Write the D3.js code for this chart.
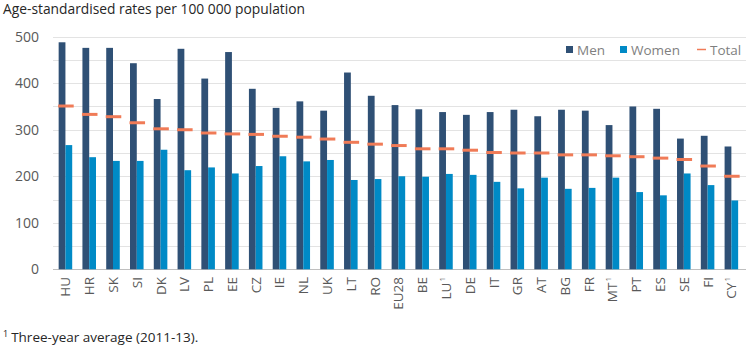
<!DOCTYPE html>
<html>
<head>
<meta charset="utf-8">
<script src="https://cdn.jsdelivr.net/npm/d3@7"></script>
<style>
  body { margin: 0; background: #fff; }
  text { font-family: 'Open Sans', sans-serif; }
</style>
</head>
<body>
<div id="chart"></div>
<script>
const countries = ['HU', 'HR', 'SK', 'SI', 'DK', 'LV', 'PL', 'EE', 'CZ', 'IE', 'NL', 'UK', 'LT', 'RO',
	'EU28', 'BE', 'LU', 'DE', 'IT', 'GR', 'AT', 'BG', 'FR', 'MT', 'PT', 'ES', 'SE', 'FI', 'CY'];
const footnoted = ['LU', 'MT', 'CY'];

const men = [488, 476, 476, 443, 366, 474, 410, 467, 388, 347, 361, 341, 423, 373,
	353, 344, 338, 332, 338, 343, 329, 343, 341, 310, 350, 345, 281, 287, 264];
const women = [267, 241, 233, 233, 257, 213, 219, 206, 222, 243, 232, 235, 192, 194,
	200, 199, 205, 203, 188, 174, 197, 173, 175, 197, 166, 159, 206, 181, 148];
const total = [351, 333, 328, 315, 302, 300, 293, 291, 290, 286, 284, 280, 273, 269,
	266, 259, 259, 256, 251, 250, 250, 246, 246, 244, 242, 239, 236, 222, 200];

const yTicks = [0, 100, 200, 300, 400, 500];
const gridLines = [0, 50, 100, 150, 200, 250, 300, 350, 400, 450, 500];

const width = 750;
const height = 349;
const colors = { men: '#2f5075', women: '#008ac6', total: '#f07b57' };

const x = d3.scaleBand()
	.domain(countries)
	.range([53.3, 743.5])
	.paddingInner(0.43)
	.paddingOuter(0.225);

const x1 = d3.scaleBand()
	.domain(['men', 'women'])
	.range([0, x.bandwidth()]);

const y = d3.scaleLinear()
	.domain([0, 500])
	.range([269.3, 36.7]);

const svg = d3.select('#chart')
	.append('svg')
	.attr('width', width)
	.attr('height', height);

svg.append('text')
	.attr('x', 3)
	.attr('y', 14)
	.style('font-size', '13.8px')
	.style('fill', '#262626')
	.text('Age-standardised rates per 100 000 population');

svg.append('g')
	.selectAll('line')
	.data(gridLines)
	.enter()
	.append('line')
	.attr('x1', 53)
	.attr('x2', 746)
	.attr('y1', d => Math.round(y(d)) + 0.5)
	.attr('y2', d => Math.round(y(d)) + 0.5)
	.attr('stroke', d => d === 0 ? '#bfbfbf' : '#e3e3e3')
	.attr('stroke-width', 1);

const yAxis = d3.axisLeft(y)
	.tickValues(yTicks)
	.tickSize(0)
	.tickPadding(0);

svg.append('g')
	.attr('transform', 'translate(39, 0)')
	.call(yAxis)
	.call(g => g.select('.domain').remove())
	.selectAll('text')
	.style('font-size', '14px')
	.style('font-family', "'Open Sans', sans-serif")
	.style('fill', '#595959');

const groups = svg.append('g')
	.selectAll('g')
	.data(countries)
	.enter()
	.append('g')
	.attr('transform', d => `translate(${x(d)}, 0)`);

groups.append('rect')
	.attr('x', x1('men'))
	.attr('width', x1.bandwidth())
	.attr('y', (d, i) => y(men[i]))
	.attr('height', (d, i) => y(0) - y(men[i]))
	.attr('fill', colors.men);

groups.append('rect')
	.attr('x', x1('women'))
	.attr('width', x1.bandwidth())
	.attr('y', (d, i) => y(women[i]))
	.attr('height', (d, i) => y(0) - y(women[i]))
	.attr('fill', colors.women);

groups.append('line')
	.attr('x1', -0.5)
	.attr('x2', x.bandwidth() + 1.5)
	.attr('y1', (d, i) => y(total[i]))
	.attr('y2', (d, i) => y(total[i]))
	.attr('stroke', colors.total)
	.attr('stroke-width', 3);

// rotated category labels
const labels = svg.append('g')
	.selectAll('text')
	.data(countries)
	.enter()
	.append('text')
	.attr('transform', d => `translate(${x(d) + x.bandwidth() / 2 + 5}, 277) rotate(-90)`)
	.attr('text-anchor', 'end')
	.style('font-size', '13.5px')
	.style('fill', '#595959');

labels.append('tspan').text(d => d);
labels.filter(d => footnoted.includes(d))
	.append('tspan')
	.attr('dx', 1)
	.attr('dy', -6)
	.style('font-size', '8px')
	.text('1');

// legend
const legend = svg.append('g').style('font-size', '13.5px');
const legendItems = [
	{ label: 'Men', color: colors.men, x: 566, kind: 'box' },
	{ label: 'Women', color: colors.women, x: 620, kind: 'box' },
	{ label: 'Total', color: colors.total, x: 697, kind: 'dash' }
];

legendItems.forEach(d => {
	if(d.kind === 'box') {
		legend.append('rect')
			.attr('x', d.x)
			.attr('y', 46)
			.attr('width', 7)
			.attr('height', 7)
			.attr('fill', d.color);
	} else {
		legend.append('line')
			.attr('x1', d.x)
			.attr('x2', d.x + 9)
			.attr('y1', 49.5)
			.attr('y2', 49.5)
			.attr('stroke', d.color)
			.attr('stroke-width', 1.5);
	}
	legend.append('text')
		.attr('x', d.x + (d.kind === 'box' ? 11 : 13))
		.attr('y', 54.5)
		.style('fill', '#7f7f7f')
		.text(d.label);
});

// footnote
const note = svg.append('text')
	.attr('x', 3)
	.attr('y', 342)
	.style('font-size', '13.5px')
	.style('fill', '#262626');
note.append('tspan').attr('dy', -5).style('font-size', '9px').text('1');
note.append('tspan').attr('dy', 5).attr('dx', 3).text('Three-year average (2011-13).');
</script>
</body>
</html>
